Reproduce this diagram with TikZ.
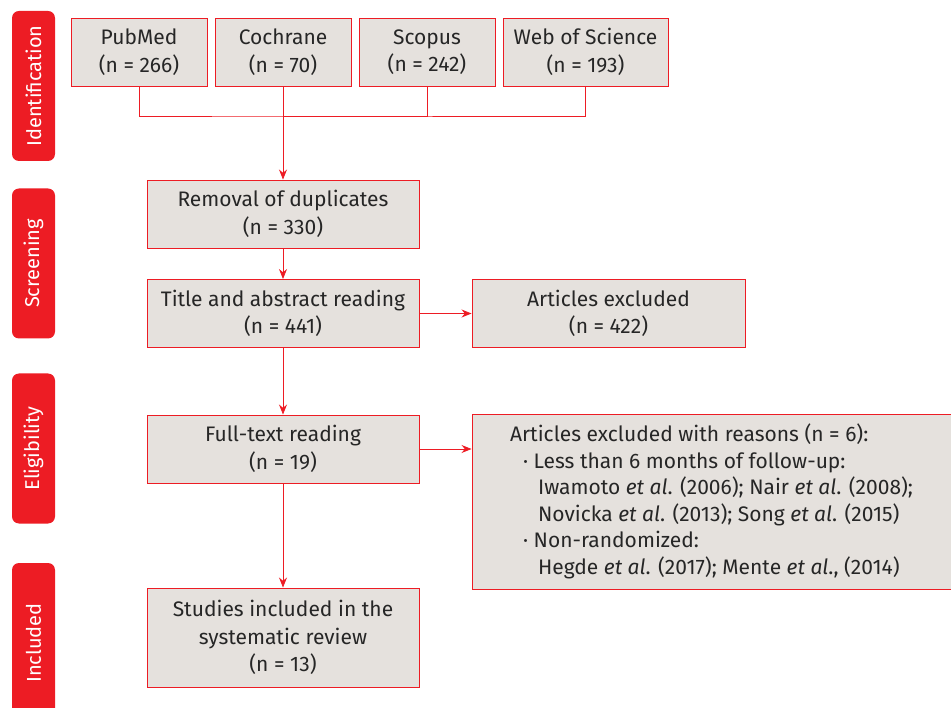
\documentclass[tikz,border=0pt]{standalone}
\usepackage{fontspec}
\setmainfont{Fira Sans}
\usetikzlibrary{arrows.meta, positioning}
\definecolor{flowred}{HTML}{ED1C24}
\definecolor{flowgrey}{HTML}{E5E1DD}
\newcommand{\etal}{\textit{et al}.}

\begin{document}
\begin{tikzpicture}[x=1pt, y=-1pt, >={Stealth[length=10pt, width=8pt]},
    box/.style={draw=flowred, fill=flowgrey, line width=0.9pt, align=center,
        inner sep=0pt, minimum width=272, minimum height=68,
        font=\fontsize{21}{27.5}\selectfont, text=black!85},
    stage/.style={fill=flowred, rounded corners=7pt, rotate=90, inner sep=0pt,
        minimum width=150, minimum height=43, text=white,
        font=\fontsize{20}{24}\selectfont},
    link/.style={draw=flowred, line width=0.9pt}]

    \useasboundingbox (0,0) rectangle (951,708);

    % stages
    \node[stage] (ident) at (33.5,86) {Identification};
    \node[stage] (screen) at (33.5,263.5) {Screening};
    \node[stage] (elig) at (33.5,448.5) {Eligibility};
    \node[stage, minimum width=160] (incl) at (33.5,643) {Included};

    % databases
    \node[box, minimum width=136] (pubmed) at (139,52) {PubMed\\(n = 266)};
    \node[box, minimum width=136] (cochrane) at (283,52) {Cochrane\\(n = 70)};
    \node[box, minimum width=136] (scopus) at (427,52) {Scopus\\(n = 242)};
    \node[box, minimum width=165] (wos) at (585.5,52) {Web of Science\\(n = 193)};

    % main column
    \node[box] (dupl) at (283,214) {Removal of duplicates\\(n = 330)};
    \node[box] (title) at (283,313.5) {Title and abstract reading\\(n = 441)};
    \node[box, minimum width=273] (excl) at (608.5,313.5) {Articles excluded\\(n = 422)};
    \node[box] (full) at (283,449) {Full-text reading\\(n = 19)};
    \node[box, minimum width=479, minimum height=175, align=left,
        font=\fontsize{21}{26.5}\selectfont] (reasons) at (711.5,501.5)
        {Articles excluded with reasons (n = 6):\\
         \hspace*{13pt}· Less than 6 months of follow-up:\\
         \hspace*{28pt}Iwamoto \etal{} (2006); Nair \etal{} (2008);\\
         \hspace*{28pt}Novicka \etal{} (2013); Song \etal{} (2015)\\
         \hspace*{13pt}· Non-randomized:\\
         \hspace*{28pt}Hegde \etal{} (2017); Mente \etal, (2014)};
    \node[box, minimum height=99] (incl box) at (283,637.5)
        {Studies included in the\\systematic review\\(n = 13)};

    % connectors
    \coordinate (merge) at (283,116);
    \draw[link] (pubmed.south) |- (merge) -| (wos.south);
    \draw[link] (scopus.south) |- (merge);
    \draw[link, ->] (cochrane.south) -- (dupl.north);
    \draw[link, ->] (dupl.south) -- (title.north);
    \draw[link, ->] (title.east) -- (excl.west);
    \draw[link, ->] (title.south) -- (full.north);
    \draw[link, ->] (full.east) -- (full.east -| reasons.west);
    \draw[link, ->] (full.south) -- (incl box.north);
\end{tikzpicture}
\end{document}
